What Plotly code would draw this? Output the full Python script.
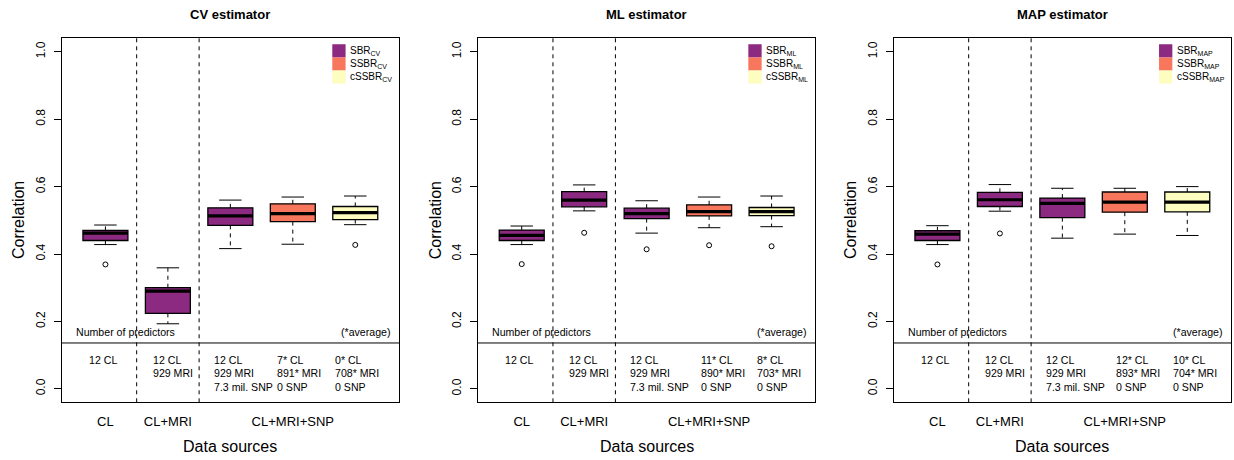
import plotly.graph_objects as go

# ---------------- data ----------------
positions = [1, 2, 3, 4, 5]
group_labels = ["CL", "CL+MRI", "CL+MRI+SNP"]
group_tick_pos = [1, 2, 4]
estimators = ["CV", "ML", "MAP"]
titles = ["CV estimator", "ML estimator", "MAP estimator"]
method_names = ["SBR", "SSBR", "cSSBR"]
box_method = [0, 0, 0, 1, 2]   # which method colours each box

# per estimator: lower whisker, q1, median, q3, upper whisker, outliers
cv_lo  = [0.428, 0.193, 0.416, 0.429, 0.487]
cv_q1  = [0.440, 0.224, 0.485, 0.496, 0.502]
cv_med = [0.462, 0.290, 0.513, 0.520, 0.523]
cv_q3  = [0.470, 0.300, 0.537, 0.549, 0.541]
cv_hi  = [0.486, 0.359, 0.560, 0.569, 0.572]
cv_out = [[0.369], [], [], [], [0.427]]

ml_lo  = [0.428, 0.528, 0.462, 0.478, 0.481]
ml_q1  = [0.440, 0.540, 0.505, 0.513, 0.514]
ml_med = [0.455, 0.560, 0.520, 0.526, 0.526]
ml_q3  = [0.471, 0.585, 0.536, 0.546, 0.538]
ml_hi  = [0.483, 0.605, 0.558, 0.569, 0.572]
ml_out = [[0.370], [0.463], [0.414], [0.426], [0.423]]

map_lo  = [0.428, 0.527, 0.447, 0.459, 0.455]
map_q1  = [0.440, 0.541, 0.508, 0.524, 0.525]
map_med = [0.459, 0.561, 0.550, 0.554, 0.554]
map_q3  = [0.469, 0.583, 0.566, 0.584, 0.584]
map_hi  = [0.484, 0.606, 0.595, 0.595, 0.600]
map_out = [[0.369], [0.461], [], [], []]

# predictor counts printed under the boxes (one list of lines per column)
cv_pred  = [["12 CL"], ["12 CL", "929 MRI"], ["12 CL", "929 MRI", "7.3 mil. SNP"],
            ["7* CL", "891* MRI", "0 SNP"], ["0* CL", "708* MRI", "0 SNP"]]
ml_pred  = [["12 CL"], ["12 CL", "929 MRI"], ["12 CL", "929 MRI", "7.3 mil. SNP"],
            ["11* CL", "890* MRI", "0 SNP"], ["8* CL", "703* MRI", "0 SNP"]]
map_pred = [["12 CL"], ["12 CL", "929 MRI"], ["12 CL", "929 MRI", "7.3 mil. SNP"],
            ["12* CL", "893* MRI", "0 SNP"], ["10* CL", "704* MRI", "0 SNP"]]

y_ticks = [0.0, 0.2, 0.4, 0.6, 0.8, 1.0]
y_tick_text = ["0.0", "0.2", "0.4", "0.6", "0.8", "1.0"]

# ---------------- styles / layout constants ----------------
colors = ["#8C2981", "#F8765C", "#FCFDBF"]
FONT = "Liberation Sans, Arial, sans-serif"
W, H = 1234, 460
lefts_px = [61.7, 478.0, 893.7]
plot_w_px = 337.3
top_px, bot_px = 38.3, 402.3
xr = [0.3, 5.7]
yr = [-0.04, 1.04]
box_w = 0.72
sep_line_y = 0.136
row_y = [0.085, 0.046, 0.006]
col_anchor = [  # (x, xanchor) for predictor text columns, per panel
    [(0.957, "center"), (1.729, "left"), (2.713, "left"), (3.717, "left"), (4.641, "left")],
    [(0.957, "center"), (1.729, "left"), (2.703, "left"), (3.834, "left"), (4.741, "left")],
    [(0.957, "center"), (1.729, "left"), (2.703, "left"), (3.834, "left"), (4.741, "left")],
]
legend_x = [4.632, 4.628, 4.548]
legend_sq_w = 0.213
legend_top = 1.022
legend_step = 0.0386

panel_stats = [
    (cv_lo, cv_q1, cv_med, cv_q3, cv_hi, cv_out, cv_pred),
    (ml_lo, ml_q1, ml_med, ml_q3, ml_hi, ml_out, ml_pred),
    (map_lo, map_q1, map_med, map_q3, map_hi, map_out, map_pred),
]

fig = go.Figure()
annotations = []
shapes = []
ydom = [(H - bot_px) / H, (H - top_px) / H]

for p in range(3):
    lo, q1, med, q3, hi, outs, pred = panel_stats[p]
    xa = "x" if p == 0 else f"x{p+1}"
    ya = "y" if p == 0 else f"y{p+1}"
    xkey = "xaxis" if p == 0 else f"xaxis{p+1}"
    ykey = "yaxis" if p == 0 else f"yaxis{p+1}"
    dom = [lefts_px[p] / W, (lefts_px[p] + plot_w_px) / W]

    for i, pos in enumerate(positions):
        col = colors[box_method[i]]
        # dashed whiskers
        for a, b in ((q3[i], hi[i]), (q1[i], lo[i])):
            fig.add_trace(go.Scatter(x=[pos, pos], y=[a, b], mode="lines", xaxis=xa, yaxis=ya,
                                     line=dict(color="black", width=1, dash="4px,4px"),
                                     showlegend=False, hoverinfo="skip"))
        # whisker caps
        for v in (hi[i], lo[i]):
            fig.add_trace(go.Scatter(x=[pos - box_w / 4, pos + box_w / 4], y=[v, v], mode="lines",
                                     xaxis=xa, yaxis=ya, line=dict(color="black", width=1),
                                     showlegend=False, hoverinfo="skip"))
        # box body
        fig.add_trace(go.Box(x=[pos], q1=[q1[i]], median=[med[i]], q3=[q3[i]],
                             lowerfence=[q1[i]], upperfence=[q3[i]], width=box_w,
                             fillcolor=col, line=dict(color="black", width=1.3),
                             whiskerwidth=0, boxpoints=False, xaxis=xa, yaxis=ya,
                             showlegend=False, hoverinfo="skip"))
        # thick median
        fig.add_trace(go.Scatter(x=[pos - box_w / 2, pos + box_w / 2], y=[med[i], med[i]],
                                 mode="lines", xaxis=xa, yaxis=ya,
                                 line=dict(color="black", width=3.2),
                                 showlegend=False, hoverinfo="skip"))
        # outliers
        if outs[i]:
            fig.add_trace(go.Scatter(x=[pos] * len(outs[i]), y=outs[i], mode="markers",
                                     xaxis=xa, yaxis=ya,
                                     marker=dict(symbol="circle-open", size=5,
                                                 color="black", line=dict(width=1)),
                                     showlegend=False, hoverinfo="skip"))

    fig.layout[xkey] = dict(domain=dom, range=xr, anchor=ya, tickvals=group_tick_pos,
                            ticktext=group_labels, ticks="outside", ticklen=7,
                            tickcolor="rgba(0,0,0,0)", showline=True, mirror=True,
                            linecolor="black", linewidth=1, showgrid=False, zeroline=False,
                            tickfont=dict(family=FONT, size=13, color="black"))
    fig.layout[ykey] = dict(domain=ydom, range=yr, anchor=xa, tickvals=y_ticks,
                            ticktext=y_tick_text, tickangle=-90, ticks="outside", ticklen=7,
                            tickcolor="black", showline=True, mirror=True,
                            linecolor="black", linewidth=1, showgrid=False, zeroline=False,
                            ticklabelstandoff=4,
                            tickfont=dict(family=FONT, size=12, color="black"))

    # separators
    for xs in (1.5, 2.5):
        shapes.append(dict(type="line", xref=xa, yref=f"{ya} domain", x0=xs, x1=xs, y0=0, y1=1,
                           line=dict(color="black", width=1, dash="4px,4px")))
    shapes.append(dict(type="line", xref=f"{xa} domain", yref=ya, x0=0, x1=1,
                       y0=sep_line_y, y1=sep_line_y, line=dict(color="black", width=1)))

    # title
    annotations.append(dict(text=f"<b>{titles[p]}</b>", xref=f"{xa} domain", x=0.5,
                            yref="paper", y=(H - 14) / H, showarrow=False, yanchor="middle",
                            font=dict(family=FONT, size=13, color="black")))
    # axis titles
    annotations.append(dict(text="Data sources", xref=f"{xa} domain", x=0.5, yref="paper",
                            y=(H - 446) / H, showarrow=False, yanchor="middle",
                            font=dict(family=FONT, size=16, color="black")))
    annotations.append(dict(text="Correlation", xref="paper", x=(lefts_px[p] - 43) / W,
                            yref="paper", y=(H - (top_px + bot_px) / 2) / H, textangle=-90,
                            showarrow=False, xanchor="center", yanchor="middle",
                            font=dict(family=FONT, size=16, color="black")))
    # in-plot texts
    annotations.append(dict(text="Number of predictors", xref=xa, yref=ya, x=0.5, y=0.169,
                            xanchor="left", yanchor="middle", showarrow=False,
                            font=dict(family=FONT, size=10.6, color="black")))
    annotations.append(dict(text="(*average)", xref=xa, yref=ya, x=5.59, y=0.169,
                            xanchor="right", yanchor="middle", showarrow=False,
                            font=dict(family=FONT, size=10.6, color="black")))
    for c, lines in enumerate(pred):
        cx, anc = col_anchor[p][c]
        for r, line in enumerate(lines):
            annotations.append(dict(text=line, xref=xa, yref=ya, x=cx, y=row_y[r],
                                    xanchor=anc, yanchor="middle", showarrow=False,
                                    font=dict(family=FONT, size=10.6, color="black")))
    # legend
    for k in range(3):
        y1 = legend_top - k * legend_step
        y0 = y1 - legend_step
        shapes.append(dict(type="rect", xref=xa, yref=ya, x0=legend_x[p],
                           x1=legend_x[p] + legend_sq_w, y0=y0, y1=y1,
                           fillcolor=colors[k], line=dict(width=0)))
        annotations.append(dict(text=f"{method_names[k]}<sub>{estimators[p]}</sub>",
                                xref=xa, yref=ya, x=legend_x[p] + legend_sq_w + 0.035,
                                y=(y0 + y1) / 2, xanchor="left", yanchor="middle",
                                showarrow=False,
                                font=dict(family=FONT, size=10, color="black")))

fig.update_layout(width=W, height=H, margin=dict(l=0, r=0, t=0, b=0),
                  paper_bgcolor="white", plot_bgcolor="white", showlegend=False,
                  annotations=annotations, shapes=shapes)

fig.write_html("out.html", config={"displayModeBar": False},
               post_script="document.body.style.margin='0';document.body.style.overflow='hidden';")
